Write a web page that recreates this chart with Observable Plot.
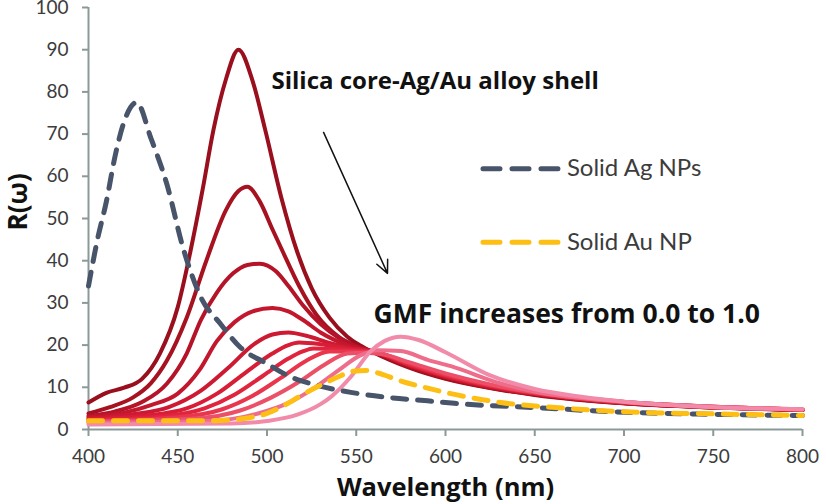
<!DOCTYPE html>
<html>
<head>
<meta charset="utf-8">
<script src="https://cdn.jsdelivr.net/npm/d3@7"></script>
<script src="https://cdn.jsdelivr.net/npm/@observablehq/plot@0.6"></script>
<style>
  html, body { margin: 0; padding: 0; background: #fff; }
  #chart svg { display: block; }
</style>
</head>
<body>
<div id="chart"></div>
<script>
// ---- data (wavelength nm, R(ω)) ----
const xTicks = [400, 450, 500, 550, 600, 650, 700, 750, 800];
const yTicks = [0, 10, 20, 30, 40, 50, 60, 70, 80, 90, 100];

const gmf00 = [[400,6.4],[410,8.7],[420,9.9],[430,12],[440,18],[450,29],[457,42],[464,57],[470,71],[477,83],[484,90],[492,82.5],[499,71],[508,55],[517,42],[525,33.5],[535,26.5],[545,22],[552,20],[560,18.2],[580,14.6],[600,12.0],[625,9.8],[650,8.2],[700,6.2],[750,5.2],[800,4.6]];
const gmf01 = [[400,3.8],[412,5.3],[425,7.6],[435,11],[444,16.4],[455,26.5],[466,40],[477,52],[484,56.5],[489,57.5],[496,54],[503,47.5],[509,42],[518,34],[528,27],[540,22],[550,19.8],[560,18.3],[580,14.8],[600,12.2],[625,9.9],[650,8.3],[700,6.2],[750,5.2],[800,4.6]];
const gmf02 = [[400,3.2],[415,4.3],[430,6.5],[444,10.9],[455,18],[463,26],[472,32.5],[481,37],[489,39],[496,39.3],[505,37.5],[512,34],[520,29.5],[530,25],[540,21.8],[550,19.7],[560,18.4],[580,15.0],[600,12.4],[625,10],[650,8.4],[700,6.3],[750,5.3],[800,4.6]];
const gmf03 = [[400,2.9],[420,4],[435,5.8],[450,8.5],[462,14],[472,21],[482,25.5],[492,28],[503,28.8],[512,28],[520,26],[530,23],[545,20],[560,18.4],[580,15.1],[600,12.5],[625,10.1],[650,8.5],[700,6.3],[750,5.3],[800,4.6]];
const gmf04 = [[400,2.6],[425,3.6],[445,5.3],[463,9.2],[478,14.5],[493,20.3],[503,22.5],[512,23],[522,22.2],[535,20.5],[548,19.2],[560,18.4],[580,15.2],[600,12.6],[625,10.2],[650,8.5],[700,6.4],[750,5.3],[800,4.7]];
const gmf05 = [[400,2.4],[430,3.2],[455,5],[472,8.5],[488,13.5],[503,18],[512,20],[518,20.6],[530,20.2],[545,19.2],[560,18.4],[580,15.3],[600,12.7],[625,10.3],[650,8.6],[700,6.4],[750,5.3],[800,4.7]];
const gmf06 = [[400,2.2],[440,3],[465,5],[482,8.3],[498,12.8],[512,16.8],[520,18.5],[526,19.2],[540,19],[550,18.7],[560,18.4],[580,15.4],[600,12.8],[625,10.4],[650,8.6],[700,6.4],[750,5.4],[800,4.7]];
const gmf07 = [[400,2.0],[450,2.9],[475,4.8],[492,8],[508,12.3],[522,16.3],[535,18.5],[548,18.5],[560,18.3],[580,15.6],[600,13],[625,10.5],[650,8.7],[700,6.5],[750,5.4],[800,4.7]];
const gmf08 = [[400,1.8],[460,2.6],[485,4.5],[502,7.5],[518,11.3],[532,15.3],[545,18],[555,18.2],[565,17.8],[580,15.9],[600,13.3],[625,10.7],[650,8.8],[700,6.5],[750,5.4],[800,4.7]];
const gmf09 = [[400,1.6],[470,2.1],[495,3.8],[512,6.3],[527,10],[540,14],[552,17.5],[562,18.8],[575,18.6],[590,16.5],[603,15],[631,10.9],[650,9],[700,6.6],[750,5.4],[800,4.8]];
const gmf10 = [[400,1.2],[480,1.4],[500,2],[517,3.5],[530,6],[536,7.8],[547,12.5],[558,18.5],[566,21],[575,22],[585,21.2],[600,18.3],[624,13],[650,9.6],[675,7.8],[700,6.6],[750,5.3],[800,4.8]];

const solidAg = [[400,34],[405,45],[410,54],[415,65],[420,73],[427,77.5],[435,69],[444,58],[453,43],[463,31.3],[474,25],[485,19.5],[500,15.6],[513,12.5],[525,10.8],[547,8.8],[570,7.5],[590,6.8],[605,6.2],[650,5.2],[700,4.1],[750,3.6],[800,3.3]];
const solidAu = [[400,2.1],[440,2.1],[470,2.1],[480,2.3],[490,2.8],[500,3.8],[510,5.8],[520,8.3],[530,10.5],[540,12.5],[548,13.8],[556,14],[565,13],[575,11.5],[590,9.8],[603,8.5],[631,6.4],[668,5],[700,4.2],[750,3.7],[800,3.3]];

const alloySeries = [gmf00, gmf01, gmf02, gmf03, gmf04, gmf05, gmf06, gmf07, gmf08, gmf09, gmf10];
const gmfLabels = ["0.0","0.1","0.2","0.3","0.4","0.5","0.6","0.7","0.8","0.9","1.0"];
const alloyColors = ["#990f1d","#a71220","#b51428","#c2172d","#cd1a32","#d81e37","#e1243d","#e8364d","#ec5068","#ee6d8b","#f18ba9"];

const legendNames = ["Solid Ag NPs", "Solid Au NP"];
const legendR = [61.8, 44.4];
const legendLineX = [621, 663];
const legendTextX = 668;

const notes = [
  {x: 502.5, y: 82.4, text: "Silica core-Ag/Au alloy shell", size: 24},
  {x: 559.7, y: 27.3, text: "GMF increases from 0.0 to 1.0", size: 26.5}
];
const arrowSpec = [{x1: 531.7, y1: 70.4, x2: 567.5, y2: 37.0}];

// ---- build tables ----
const alloyRows = alloySeries.flatMap((s, i) => s.map(([x, y]) => ({x, y, gmf: gmfLabels[i]})));
const agRows = solidAg.map(([x, y]) => ({x, y}));
const auRows = solidAu.map(([x, y]) => ({x, y}));
const legendLines = legendNames.flatMap((n, i) => legendLineX.map(x => ({x, y: legendR[i], name: n})));
const legendTexts = legendNames.map((n, i) => ({x: legendTextX, y: legendR[i], name: n}));

const axisColor = "#8c9999";
const textColor = "#3c3c3c";
const agColor = "#48546a";
const auColor = "#fdbf14";
const boldFont = "'Open Sans', Lato, sans-serif";

const chart = Plot.plot({
  width: 826,
  height: 504,
  marginLeft: 88,
  marginRight: 24,
  marginTop: 7,
  marginBottom: 75,
  style: {fontFamily: "Lato, 'Open Sans', sans-serif", background: "#fff", overflow: "visible"},
  x: {domain: [400, 800]},
  y: {domain: [0, 100]},
  color: {domain: gmfLabels, range: alloyColors},
  marks: [
    Plot.ruleX([400], {stroke: axisColor, strokeWidth: 2}),
    Plot.ruleY([0], {stroke: axisColor, strokeWidth: 2}),
    Plot.axisY({ticks: yTicks, tickSize: 6, tickPadding: 14, fontSize: 19, stroke: axisColor, strokeWidth: 2, color: textColor, label: null}),
    Plot.axisX({ticks: xTicks, tickSize: 7, tickPadding: 13, fontSize: 19, stroke: axisColor, strokeWidth: 2, color: textColor, label: null}),
    Plot.line(alloyRows, {x: "x", y: "y", z: "gmf", stroke: "gmf", strokeWidth: 4, curve: "monotone-x"}),
    Plot.line(agRows, {x: "x", y: "y", stroke: agColor, strokeWidth: 5, strokeDasharray: "14 11", strokeLinecap: "round", curve: "monotone-x"}),
    Plot.line(auRows, {x: "x", y: "y", stroke: auColor, strokeWidth: 5, strokeDasharray: "14 11", strokeLinecap: "round", curve: "monotone-x"}),
    Plot.line(legendLines, {x: "x", y: "y", z: "name", stroke: d => d.name === legendNames[0] ? agColor : auColor, strokeWidth: 5, strokeDasharray: "17 12", strokeLinecap: "round"}),
    Plot.text(legendTexts, {x: "x", y: "y", text: "name", textAnchor: "start", fontSize: 24, fill: textColor}),
    Plot.text(notes, {x: "x", y: "y", text: "text", textAnchor: "start", fontSize: d => d.size, fontWeight: "bold", fontFamily: boldFont, fill: "#111"}),
    Plot.arrow(arrowSpec, {x1: "x1", y1: "y1", x2: "x2", y2: "y2", stroke: "#111", strokeWidth: 1.5, headLength: 14, headAngle: 50}),
    Plot.text(["Wavelength (nm)"], {frameAnchor: "bottom", lineAnchor: "bottom", dy: 66, fontSize: 25.5, fontWeight: "bold", fontFamily: boldFont, fill: "#111"}),
    Plot.text(["R(\u03c9)"], {frameAnchor: "left", dx: -70, dy: 12, rotate: -90, fontSize: 26, fontWeight: "bold", fontFamily: boldFont, fill: "#111"})
  ]
});
document.getElementById("chart").appendChild(chart);
</script>
</body>
</html>
